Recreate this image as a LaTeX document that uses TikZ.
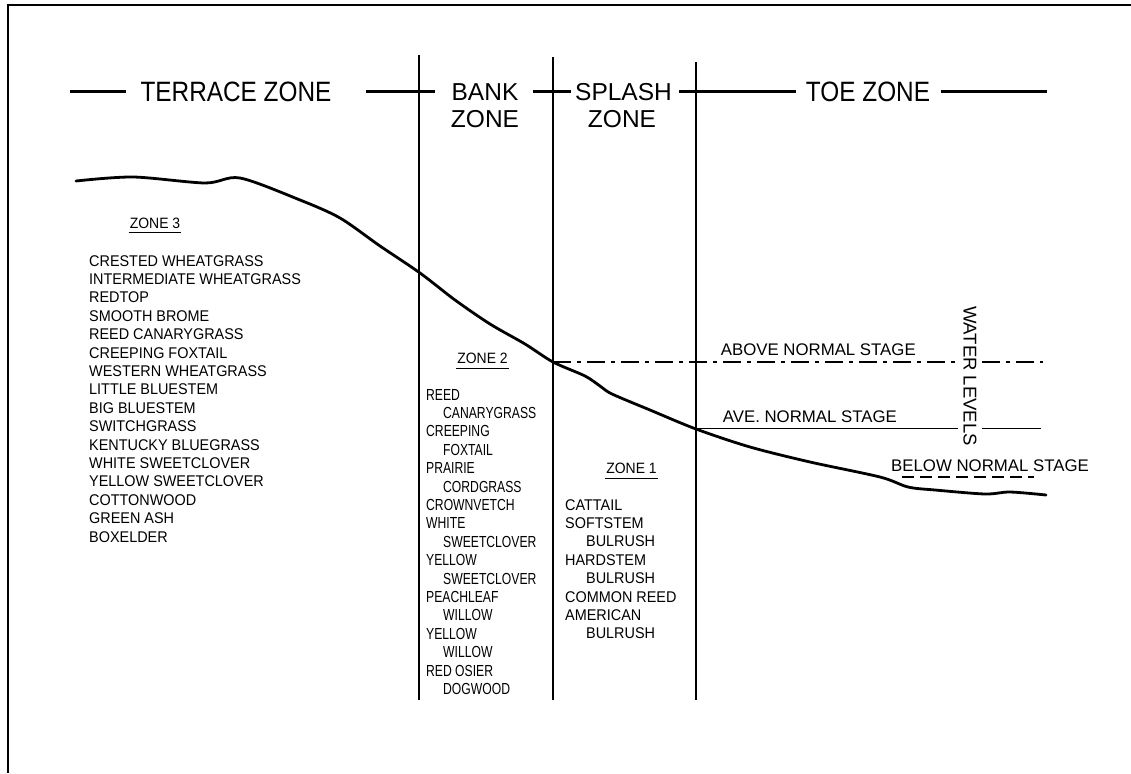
\documentclass[tikz,border=0pt]{standalone}
\usepackage{fontspec}
\setmainfont{Liberation Sans}
\newfontfamily\hdfont[FakeStretch=0.87]{Liberation Sans}
\newfontfamily\lstfont[FakeStretch=0.93]{Liberation Sans}
\newfontfamily\nrwfont[FakeStretch=0.76]{Liberation Sans}

\begin{document}
\begin{tikzpicture}[x=1pt,y=1pt,
  head/.style={font=\fontsize{28}{28}\selectfont\hdfont,anchor=base},
  headsm/.style={font=\fontsize{24.5}{24.5}\selectfont,anchor=base},
  plant/.style={font=\fontsize{15.5}{18}\selectfont\lstfont,anchor=base west},
  plantnrw/.style={font=\fontsize{16}{18}\selectfont\nrwfont,anchor=base west},
  zonelbl/.style={font=\fontsize{15}{15}\selectfont\lstfont,anchor=base},
  stage/.style={font=\fontsize{16.8}{17}\selectfont,anchor=base west},
  ground/.style={line width=2.8pt,line join=round,line cap=round},
  divider/.style={line width=1.6pt},
  headline/.style={line width=3.6pt},
  uline/.style={line width=0.9pt}]
\tikzstyle{every node}+=[inner sep=0pt]
\useasboundingbox (0,0) rectangle (1131,-773);
% frame
\draw [line width=2pt] (8,-773) -- (8,-5) -- (1131,-5);
% zone titles
\node [head] (terrace) at (236,-101.7) {TERRACE ZONE};
\node [headsm] (bank) at (485,-101) {BANK};
\node [headsm] (bankz) at (485,-127.7) {ZONE};
\node [headsm] (splash) at (623.5,-101) {SPLASH};
\node [headsm] (splashz) at (622,-127.7) {ZONE};
\node [head] (toe) at (868,-101.7) {TOE ZONE};
\draw [headline] (70,-91.5) -- (126,-91.5);
\draw [headline] (366,-91.5) -- (435,-91.5);
\draw [headline] (533,-91.5) -- (571,-91.5);
\draw [headline] (679,-91.5) -- (796,-91.5);
\draw [headline] (941,-91.5) -- (1047,-91.5);
% zone boundaries
\draw [divider] (419,-55) -- (419,-700);
\draw [divider] (553,-57) -- (553,-700);
\draw [divider] (696,-62) -- (696,-700);
% bank profile
\draw [ground] plot [smooth,tension=0.5] coordinates {(76,-181) (133,-177) (205,-183) (240,-178) (300,-200) (340,-218) (380,-246) (420,-273) (455,-300) (490,-324) (525,-344) (553,-362) (585,-376) (600,-386) (612,-394) (650,-410) (696,-429) (750,-447) (810,-462) (880,-477) (908,-487) (935,-490) (985,-494) (1010,-492) (1046,-495)};
% water levels
\draw [line width=1.2pt,dash pattern=on 18pt off 6pt on 4pt off 6pt] (553,-362) -- (958,-362) (982,-362) -- (1043,-362);
\draw [line width=1.1pt] (696,-428.5) -- (958,-428.5) (982,-428.5) -- (1041,-428.5);
\draw [line width=1.1pt,dash pattern=on 12pt off 6pt] (902,-477) -- (1034,-477);
\node [stage] (above) at (720.7,-355) {ABOVE NORMAL STAGE};
\node [stage] (ave) at (722.7,-422.7) {AVE. NORMAL STAGE};
\node [stage] (below) at (891,-471) {BELOW NORMAL STAGE};
\node [font=\fontsize{18.5}{18.5}\selectfont,rotate=-90] (water) at (970,-376) {WATER LEVELS};
% zone labels
\node [zonelbl] (zone3) at (155,-228.3) {ZONE 3};
\draw [uline] ([xshift=-1pt,yshift=-4.4pt]zone3.base west) -- ([xshift=1pt,yshift=-4.4pt]zone3.base east);
\node [zonelbl] (zone2) at (482.5,-363) {ZONE 2};
\draw [uline] ([xshift=-1pt,yshift=-5pt]zone2.base west) -- ([xshift=1pt,yshift=-5pt]zone2.base east);
\node [zonelbl] (zone1) at (631.5,-473) {ZONE 1};
\draw [uline] ([xshift=-1pt,yshift=-5pt]zone1.base west) -- ([xshift=1pt,yshift=-5pt]zone1.base east);
% plant lists
\foreach \w [count=\i from 0] in {CRESTED WHEATGRASS, INTERMEDIATE WHEATGRASS, REDTOP, SMOOTH BROME, REED CANARYGRASS, CREEPING FOXTAIL, WESTERN WHEATGRASS, LITTLE BLUESTEM, BIG BLUESTEM, SWITCHGRASS, KENTUCKY BLUEGRASS, WHITE SWEETCLOVER, YELLOW SWEETCLOVER, COTTONWOOD, GREEN ASH, BOXELDER}
  \node [plant] (three\i) at (89,-266-18.4*\i) {\w};
\foreach \x/\w [count=\i from 0] in {426/REED, 443/CANARYGRASS, 426/CREEPING, 443/FOXTAIL, 426/PRAIRIE, 443/CORDGRASS, 426/CROWNVETCH, 426/WHITE, 443/SWEETCLOVER, 426/YELLOW, 443/SWEETCLOVER, 426/PEACHLEAF, 443/WILLOW, 426/YELLOW, 443/WILLOW, 426/RED OSIER, 443/DOGWOOD}
  \node [plantnrw] (two\i) at (\x,-400-18.4*\i) {\w};
\foreach \x/\w [count=\i from 0] in {565/CATTAIL, 565/SOFTSTEM, 586/BULRUSH, 565/HARDSTEM, 586/BULRUSH, 565/COMMON REED, 565/AMERICAN, 586/BULRUSH}
  \node [plant] (one\i) at (\x,-510-18.4*\i) {\w};
\end{tikzpicture}
\end{document}
